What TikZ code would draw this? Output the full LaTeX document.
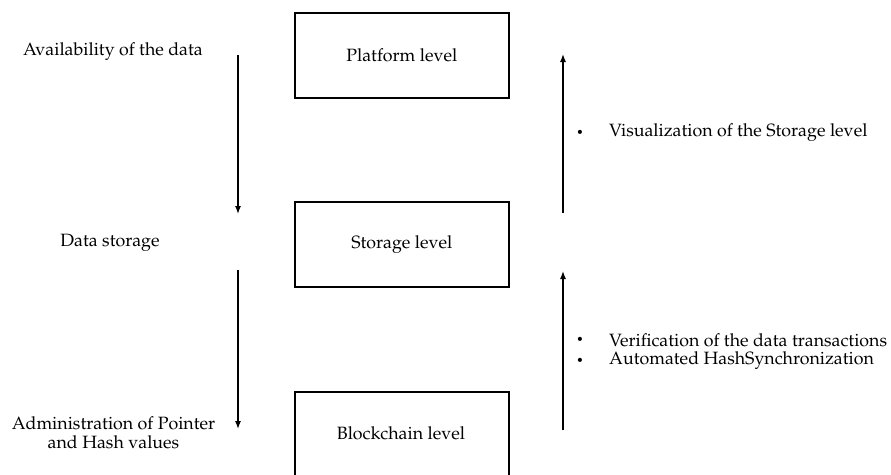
\documentclass[tikz,border=0pt]{standalone}
\usepackage[T1]{fontenc}
\usepackage{mathpazo}
\usetikzlibrary{arrows.meta}
\begin{document}
\begin{tikzpicture}[x=1pt,y=-1pt,
  every node/.style={font=\fontsize{17.8}{19}\selectfont, inner sep=0pt},
  level/.style={draw, line width=1.7pt, minimum width=214pt, anchor=north west},
  flow/.style={line width=1.3pt, -{Latex[length=8pt,width=6pt]}},
  label/.style={align=center},
  item/.style={anchor=west},
  dot/.style={font=\fontsize{12}{14}\selectfont}]
  \useasboundingbox (0,0) rectangle (891,474);
  \clip (0,0) rectangle (891,474);
  \fill[white] (0,0) rectangle (891,474);

  % the three levels
  \node[level, minimum height=85pt] (platform) at (294,12) {};
  \node at (platform.center) {Platform level};
  \node[level, minimum height=85pt] (storage) at (294,201) {};
  \node at (storage.center) {Storage level};
  \node[level, minimum height=95pt] (chain) at (294,391) {};
  \node at (401,433) {Blockchain level};

  % left side: data flowing down
  \node[label] (avail) at (113,52) {Availability of the data};
  \node[label] (dstore) at (110,243) {Data storage};
  \node[label] (admin) at (113.5,433) {Administration of Pointer\\and Hash values};

  \coordinate (d1s) at (238,55);  \coordinate (d1e) at (238,214);
  \coordinate (d2s) at (238,270); \coordinate (d2e) at (238,429);
  \draw[flow] (d1s) -- (d1e);
  \draw[flow] (d2s) -- (d2e);

  % right side: results flowing up
  \coordinate (u1s) at (563,213); \coordinate (u1e) at (563,54);
  \coordinate (u2s) at (563,430); \coordinate (u2e) at (563,271);
  \draw[flow] (u1s) -- (u1e);
  \draw[flow] (u2s) -- (u2e);

  \node[dot] (b1) at (580,133) {\textbullet};
  \node[item] (vis) at (609,133) {Visualization of the Storage level};
  \node[dot] (b2) at (580,340) {\textbullet};
  \node[item] (ver) at (609,340) {Verification of the data transactions};
  \node[dot] (b3) at (580,361) {\textbullet};
  \node[item] (hash) at (609,361) {Automated HashSynchronization};
\end{tikzpicture}
\end{document}
